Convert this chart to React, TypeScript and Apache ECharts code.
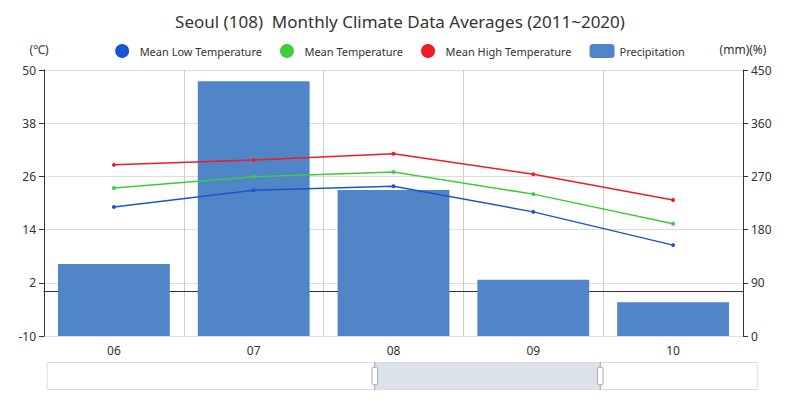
import React, { useEffect, useRef } from "react";
import * as echarts from "echarts";

const months = ["06", "07", "08", "09", "10"];
const lowTemp = [19.1, 22.9, 23.8, 18.0, 10.5];
const meanTemp = [23.4, 25.9, 27.0, 22.0, 15.3];
const highTemp = [28.6, 29.7, 31.1, 26.5, 20.7];
const precip = [122, 431, 247, 95, 57];

export default function App() {
  const ref = useRef<HTMLDivElement>(null);
  useEffect(() => {
    const chart = echarts.init(ref.current!, null, { renderer: "svg" });
    const font = "'Noto Sans', sans-serif";
    const line = (name: string, data: number[], color: string) => ({
      name,
      type: "line",
      data,
      symbol: "circle",
      symbolSize: 4,
      itemStyle: { color },
      lineStyle: { width: 1.5 },
    });
    chart.setOption({
      animation: false,
      textStyle: { fontFamily: font },
      title: {
        text: "Seoul (108)  Monthly Climate Data Averages (2011~2020)",
        left: "center",
        top: 0,
        textStyle: { fontSize: 17, fontWeight: "normal", color: "#333" },
      },
      legend: {
        top: 31,
        itemGap: 18,
        textStyle: { fontSize: 11, color: "#333" },
        data: [
          { name: "Mean Low Temperature", icon: "circle" },
          { name: "Mean Temperature", icon: "circle" },
          { name: "Mean High Temperature", icon: "circle" },
          "Precipitation",
        ],
      },
      grid: { left: 36, right: 49, top: 62, bottom: 59 },
      xAxis: [
        {
          type: "category",
          data: months,
          splitLine: { show: true, lineStyle: { color: "#ccc" } },
          axisLine: { lineStyle: { color: "#333" } },
          axisLabel: { color: "#333", fontSize: 12 },
        },
        { type: "category", show: false, data: months },
      ],
      yAxis: [
        {
          type: "value",
          name: "(℃)",
          nameTextStyle: { color: "#333", padding: [0, 10, 0, 0] },
          min: -10,
          max: 50,
          interval: 12,
          axisLine: { show: true, lineStyle: { color: "#333" } },
          axisTick: { show: true },
          axisLabel: { color: "#333" },
          splitLine: { lineStyle: { color: "#ddd" } },
        },
        {
          type: "value",
          name: "(mm)(%)",
          nameTextStyle: { color: "#333" },
          min: 0,
          max: 450,
          interval: 90,
          axisLine: { show: true, lineStyle: { color: "#333" } },
          axisTick: { show: true },
          axisLabel: { color: "#333" },
          splitLine: { show: false },
        },
      ],
      dataZoom: [
        {
          type: "slider",
          xAxisIndex: 1,
          start: 46,
          end: 78,
          left: 38,
          right: 35,
          bottom: 5,
          height: 28,
          showDetail: false,
          showDataShadow: false,
          brushSelect: false,
          fillerColor: "rgba(167,183,204,0.4)",
          borderColor: "#ddd",
          handleStyle: { color: "#fff", borderColor: "#aaa" },
          moveHandleSize: 0,
        },
      ],
      series: [
        {
          name: "Precipitation",
          type: "bar",
          yAxisIndex: 1,
          data: precip,
          barWidth: "80%",
          itemStyle: { color: "#5085c8" },
        },
        line("Mean Low Temperature", lowTemp, "#1a55d0"),
        line("Mean Temperature", meanTemp, "#3ccc3c"),
        line("Mean High Temperature", highTemp, "#ee1c25"),
      ],
    });
    return () => chart.dispose();
  }, []);
  return <div ref={ref} style={{ width: 784, height: 387 }} />;
}
